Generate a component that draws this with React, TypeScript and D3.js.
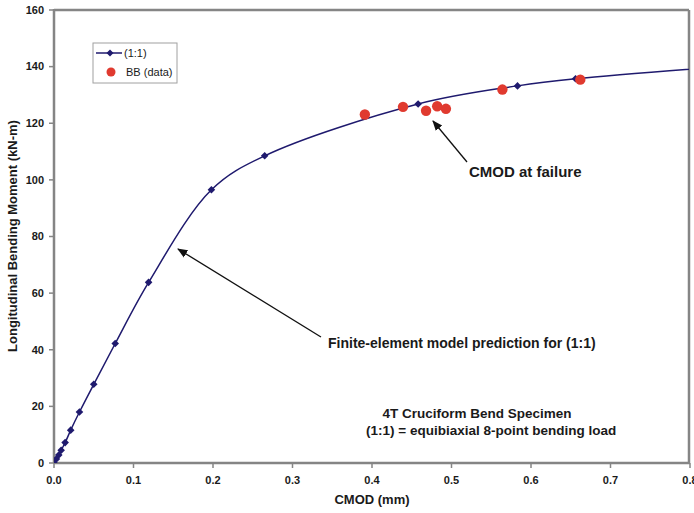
import React from "react";
import * as d3 from "d3";

// FE model prediction (1:1): CMOD (mm) vs moment (kN-m)
const modelCmod = [0, 0.003, 0.006, 0.009, 0.014, 0.021, 0.032, 0.05, 0.077, 0.119, 0.198, 0.265, 0.458, 0.583, 0.656, 0.87];
const modelMoment = [0, 1.4, 2.8, 4.5, 7.2, 11.6, 18.0, 27.8, 42.2, 63.8, 96.5, 108.5, 126.8, 133.2, 135.7, 140.6];

// BB test data at failure
const bbCmod = [0.391, 0.439, 0.468, 0.482, 0.493, 0.564, 0.662];
const bbMoment = [123.1, 125.8, 124.4, 126.0, 125.1, 131.9, 135.4];

const xTicks = [0, 0.1, 0.2, 0.3, 0.4, 0.5, 0.6, 0.7, 0.8];
const yTicks = [0, 20, 40, 60, 80, 100, 120, 140, 160];

const W = 694;
const H = 513;
const left = 54;
const right = 689;
const top = 10;
const bottom = 463;

export default function App() {
  const x = d3.scaleLinear().domain([0, 0.8]).range([left, right + 1]);
  const y = d3.scaleLinear().domain([0, 160]).range([bottom, top]);

  const model = modelCmod.map((c, i) => [c, modelMoment[i]] as [number, number]);
  const line = d3
    .line<[number, number]>()
    .x((d) => x(d[0]))
    .y((d) => y(d[1]))
    .curve(d3.curveCatmullRom.alpha(0.5));

  const font = "Arial, 'Liberation Sans', sans-serif";
  const navy = "#1f1a6e";
  const red = "#e03a2f";
  const axisGray = "#858585";
  const text = "#1a1a1a";

  const diamond = (cx: number, cy: number, r = 3.8) =>
    `M${cx},${cy - r}L${cx + r},${cy}L${cx},${cy + r}L${cx - r},${cy}Z`;

  return (
    <svg
      width={W}
      height={H}
      style={{ position: "absolute", left: 0, top: 0, background: "#fff" }}
      fontFamily={font}
    >
      <defs>
        <clipPath id="plot">
          <rect x={left} y={top} width={right - left} height={bottom - top} />
        </clipPath>
        <marker id="arr" viewBox="0 0 10 10" refX="9" refY="5" markerWidth="8" markerHeight="8" orient="auto">
          <path d="M0,1 L10,5 L0,9 Z" fill="#111" />
        </marker>
      </defs>

      {/* plot frame */}
      <line x1={left} x2={right} y1={top} y2={top} stroke={axisGray} strokeWidth={2.5} />
      <line x1={right} x2={right} y1={top} y2={bottom} stroke={axisGray} strokeWidth={2.5} />

      {/* y axis */}
      <line x1={left} x2={left} y1={top - 1} y2={bottom} stroke={axisGray} strokeWidth={2.5} />
      {yTicks.map((t) => (
        <g key={"y" + t}>
          <line x1={left - 5} x2={left} y1={y(t)} y2={y(t)} stroke={axisGray} strokeWidth={1.5} />
          <text x={left - 10} y={y(t)} dy="0.35em" textAnchor="end" fontSize={11} fontWeight="bold" fill={text}>
            {t}
          </text>
        </g>
      ))}

      {/* x axis */}
      <line x1={left} x2={right + 1} y1={bottom} y2={bottom} stroke={axisGray} strokeWidth={2.5} />
      {xTicks.map((t) => (
        <g key={"x" + t}>
          <line x1={x(t)} x2={x(t)} y1={bottom} y2={bottom + 5} stroke={axisGray} strokeWidth={1.5} />
          <text x={x(t)} y={bottom + 21} textAnchor="middle" fontSize={11} fontWeight="bold" fill={text}>
            {t.toFixed(1)}
          </text>
        </g>
      ))}

      {/* axis titles */}
      <text x={372} y={504} textAnchor="middle" fontSize={13} fontWeight="bold" fill={text}>
        CMOD (mm)
      </text>
      <text
        transform={`translate(17,236) rotate(-90)`}
        textAnchor="middle"
        fontSize={13}
        fontWeight="bold"
        fill={text}
      >
        Longitudinal Bending Moment (kN-m)
      </text>

      {/* model curve */}
      <g clipPath="url(#plot)">
        <path d={line(model) ?? ""} fill="none" stroke={navy} strokeWidth={1.5} />
        {model.map((d, i) => (
          <path key={"m" + i} d={diamond(x(d[0]), y(d[1]))} fill={navy} />
        ))}
      </g>

      {/* BB data */}
      {bbCmod.map((c, i) => (
        <circle key={"b" + i} cx={x(c)} cy={y(bbMoment[i])} r={5.2} fill={red} />
      ))}

      {/* legend */}
      <rect x={93} y={43} width={84} height={40} fill="#fff" stroke="#a0a0a0" strokeWidth={1} />
      <line x1={96} x2={122} y1={53} y2={53} stroke={navy} strokeWidth={1.5} />
      <path d={diamond(110, 53, 3.5)} fill={navy} />
      <text x={124} y={53} dy="0.35em" fontSize={11} fill={text}>
        (1:1)
      </text>
      <circle cx={111} cy={72} r={4.5} fill={red} />
      <text x={126} y={72} dy="0.35em" fontSize={11} fill={text}>
        BB (data)
      </text>

      {/* annotations */}
      <line x1={321} x2={178} y1={337} y2={249} stroke="#111" strokeWidth={1.3} markerEnd="url(#arr)" />
      <text x={328} y={348} fontSize={14} fontWeight="bold" fill={text}>
        Finite-element model prediction for (1:1)
      </text>

      <line x1={467} x2={433} y1={162} y2={121} stroke="#111" strokeWidth={1.3} markerEnd="url(#arr)" />
      <text x={469} y={177} fontSize={15} fontWeight="bold" fill={text}>
        CMOD at failure
      </text>

      <text x={477} y={418} textAnchor="middle" fontSize={13.5} fontWeight="bold" fill={text}>
        4T Cruciform Bend Specimen
      </text>
      <text x={366} y={435} fontSize={13.5} fontWeight="bold" fill={text}>
        (1:1) = equibiaxial 8-point bending load
      </text>
    </svg>
  );
}
